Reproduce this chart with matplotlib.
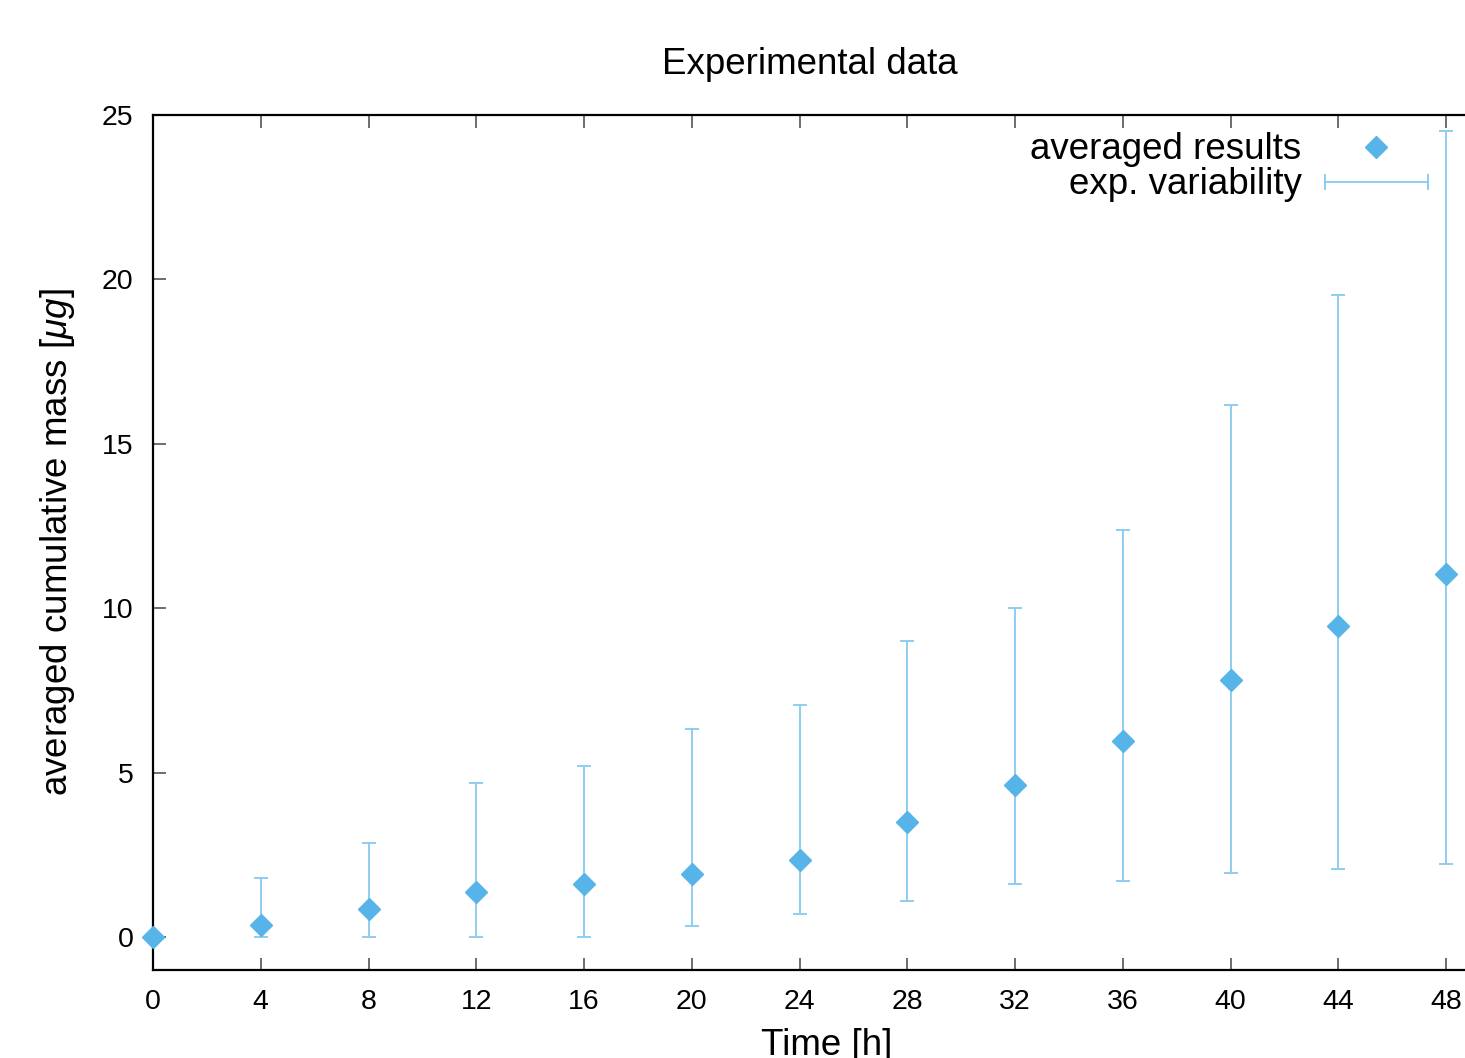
import matplotlib
matplotlib.use("Agg")
import matplotlib.pyplot as plt
from matplotlib.lines import Line2D
from matplotlib.legend_handler import HandlerLine2D

plt.rcParams['font.family'] = ['Liberation Sans', 'DejaVu Sans']
plt.rcParams['mathtext.fontset'] = 'custom'
plt.rcParams['mathtext.rm'] = 'Liberation Sans'
plt.rcParams['mathtext.it'] = 'Liberation Sans:italic'

time_h = [0, 4, 8, 12, 16, 20, 24, 28, 32, 36, 40, 44, 48]
mass_avg = [0.0, 0.36, 0.85, 1.37, 1.61, 1.92, 2.34, 3.50, 4.62, 5.96, 7.82, 9.46, 11.04]
mass_low = [0.0, 0.0, 0.0, 0.0, 0.0, 0.33, 0.70, 1.09, 1.61, 1.70, 1.95, 2.07, 2.22]
mass_high = [0.0, 1.79, 2.86, 4.68, 5.20, 6.33, 7.06, 9.00, 10.00, 12.38, 16.18, 19.53, 24.51]
x_ticks = [0, 4, 8, 12, 16, 20, 24, 28, 32, 36, 40, 44, 48]
y_ticks = [0, 5, 10, 15, 20, 25]

marker_color = '#56B4E9'
err_color = '#86C9EF'

W, H = 1465, 1058
fig = plt.figure(figsize=(W / 100, H / 100), dpi=100)
x0, x1 = 153, 153 + 50 * 26.94
y_top, y_bot = 115, 970
ax = fig.add_axes([x0 / W, 1 - y_bot / H, (x1 - x0) / W, (y_bot - y_top) / H])

yerr = [[m - l for m, l in zip(mass_avg, mass_low)],
        [h - m for m, h in zip(mass_avg, mass_high)]]
ax.errorbar(time_h, mass_avg, yerr=yerr, fmt='none', ecolor=err_color,
            elinewidth=1.3, capsize=5, capthick=1.3, zorder=2, clip_on=False)
ax.plot(time_h, mass_avg, linestyle='none', marker='D', markersize=11,
        color=marker_color, zorder=3, clip_on=False)

ax.set_xlim(0, 50)
ax.set_ylim(-1, 25)
ax.set_xticks(x_ticks)
ax.set_yticks(y_ticks)
ax.tick_params(direction='in', length=9, width=1.2, color='#555555',
               labelsize=20.5, top=True, right=True, labelcolor='black')
ax.tick_params(axis='x', pad=14)
ax.tick_params(axis='y', pad=14)
for s in ax.spines.values():
    s.set_linewidth(1.6)
    s.set_color('black')

ax.set_xlabel('Time [h]', fontsize=26.5, labelpad=9)
ax.set_ylabel(r'averaged cumulative mass [$\mu g$]', fontsize=26.5, labelpad=18)
fig.text(810 / W, 1 - 64 / H, 'Experimental data',
         fontsize=26.5, ha='center', va='center')

h1 = Line2D([], [], linestyle='none', marker='D', markersize=11, color=marker_color)
h2 = Line2D([], [], color=err_color, linewidth=1.3, marker='|', markersize=12,
            markeredgewidth=1.3)
leg = fig.legend([h1, h2], ['averaged results', 'exp. variability'],
                 loc='upper right', bbox_to_anchor=(1446 / W, 1 - 114 / H),
                 frameon=False, markerfirst=False, fontsize=26.5,
                 handlelength=2.8, handletextpad=0.62, labelspacing=0.0,
                 borderpad=0.0,
                 handler_map={h1: HandlerLine2D(numpoints=1),
                              h2: HandlerLine2D(numpoints=2, marker_pad=0.0)})

fig.savefig('out.png', dpi=100)
